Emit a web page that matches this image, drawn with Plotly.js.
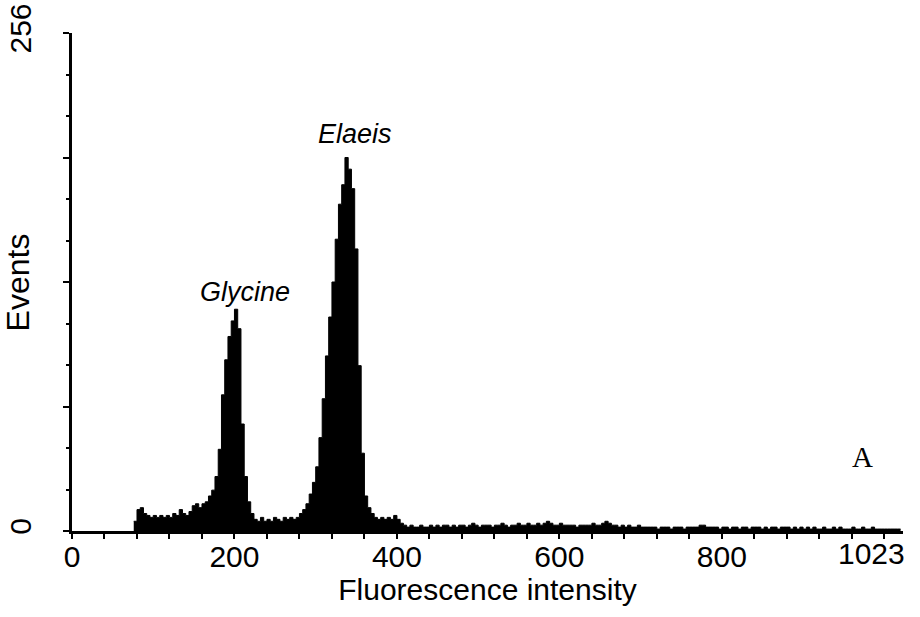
<!DOCTYPE html>
<html>
<head>
<meta charset="utf-8">
<script src="https://cdn.plot.ly/plotly-3.0.1.min.js"></script>
<style>html,body{margin:0;padding:0;background:#fff;}#chart{width:920px;height:617px;}</style>
</head>
<body>
<div id="chart"></div>
<script>
// Histogram: channel of first bin, bin width (channels), counts per bin
const binStart = 76;
const binWidth = 4;
const events = [
  // 76-156
  5, 11, 12, 9, 8, 7, 8, 7, 8, 7, 8, 7, 9, 8, 11, 9, 8, 10, 13, 14, 12,
  // 160-220 (Glycine)
  14, 15, 18, 21, 28, 42, 70, 88, 100, 108, 114, 104, 55, 28, 15, 9,
  // 224-276
  6, 5, 7, 5, 6, 5, 7, 6, 5, 7, 6, 7, 6, 7,
  // 280-368 (Elaeis)
  9, 11, 14, 19, 25, 33, 48, 68, 90, 110, 128, 150, 168, 178, 192, 186, 176, 145, 85, 40, 18, 12, 9,
  // 372-404
  7, 6, 7, 6, 7, 6, 8, 6, 4,
  // 408-508
  3, 2, 3, 2, 2, 3, 2, 2, 3, 2, 3, 2, 3, 3, 2, 3, 2, 3, 3, 2, 3, 4, 3, 2, 3, 3,
  // 512-608
  3, 2, 3, 3, 4, 3, 2, 3, 3, 4, 3, 3, 4, 3, 3, 4, 3, 4, 5, 4, 3, 3, 4, 3, 3,
  // 612-700
  3, 3, 2, 3, 3, 3, 3, 4, 3, 3, 4, 5, 4, 3, 3, 2, 3, 2, 3, 2, 2, 3, 2,
  // 704-800
  2, 2, 2, 2, 1, 2, 2, 2, 1, 2, 2, 2, 1, 2, 2, 2, 2, 3, 3, 2, 2, 2, 2, 1, 2,
  // 804-900
  2, 1, 2, 2, 1, 2, 2, 1, 2, 2, 2, 1, 2, 1, 2, 2, 1, 2, 2, 2, 1, 2, 1, 2, 1,
  // 904-1020
  2, 1, 2, 1, 1, 2, 1, 1, 2, 1, 2, 1, 1, 1, 2, 1, 1, 2, 1, 1, 2, 1, 1, 1, 1, 1, 1, 1, 1, 1
];

const xTickVals = [0, 200, 400, 600, 800];
const xTickText = ['0', '200', '400', '600', '800'];
const xMaxLabel = '1023';
const yTickVals = [0, 64, 128, 192, 256];
const yTickText = ['0', '', '', '', '256'];
const peakNames = ['Glycine', 'Elaeis'];
const panelLabel = 'A';

const FONT = 'Liberation Sans, Arial, sans-serif';

const trace = {
  type: 'scatter',
  mode: 'lines',
  x0: binStart,
  dx: binWidth,
  y: events,
  line: {shape: 'hv', color: '#000', width: 1},
  fill: 'tozeroy',
  fillcolor: '#000',
  hoverinfo: 'skip',
  showlegend: false
};

const layout = {
  width: 920,
  height: 617,
  margin: {l: 72, r: 17, t: 33, b: 86},
  paper_bgcolor: '#fff',
  plot_bgcolor: '#fff',
  showlegend: false,
  font: {family: FONT, color: '#000', size: 30},
  xaxis: {
    range: [0, 1023],
    showgrid: false,
    zeroline: false,
    showline: true,
    linecolor: '#000',
    linewidth: 3,
    ticks: 'outside',
    ticklen: 5,
    tickwidth: 2,
    tickcolor: '#000',
    tickvals: xTickVals,
    ticktext: xTickText,
    ticklabelstandoff: -8,
    tickfont: {family: FONT, size: 30, color: '#000'},
    minor: {dtick: 40, tick0: 0, ticks: 'outside', ticklen: 5, tickwidth: 2, tickcolor: '#000', showgrid: false},
    title: {text: 'Fluorescence intensity', font: {family: FONT, size: 30, color: '#000'}, standoff: 0},
    fixedrange: true
  },
  yaxis: {
    range: [0, 256],
    showgrid: false,
    zeroline: false,
    showline: true,
    linecolor: '#000',
    linewidth: 3,
    ticks: 'outside',
    ticklen: 6,
    tickwidth: 2,
    tickcolor: '#000',
    tickvals: yTickVals,
    ticktext: yTickText,
    tickangle: -90,
    ticklabelstandoff: 20,
    tickfont: {family: FONT, size: 30, color: '#000'},
    minor: {dtick: 64 / 3, tick0: 0, ticks: 'outside', ticklen: 3, tickwidth: 2, tickcolor: '#000', showgrid: false},
    fixedrange: true
  },
  annotations: [
    {text: 'Events', textangle: -90, xref: 'paper', yref: 'paper', x: -0.0645, y: 0.5,
     xanchor: 'center', yanchor: 'middle', showarrow: false,
     font: {family: FONT, size: 32, color: '#000'}},
    {text: xMaxLabel, xref: 'x', yref: 'paper', x: 1023, y: 0, yshift: -4, xshift: 4,
     xanchor: 'right', yanchor: 'top', showarrow: false,
     font: {family: FONT, size: 30, color: '#000'}},
    {text: '<i>' + peakNames[0] + '</i>', xref: 'x', yref: 'y', x: 213, y: 123,
     xanchor: 'center', yanchor: 'middle', showarrow: false,
     font: {family: FONT, size: 27, color: '#000'}},
    {text: '<i>' + peakNames[1] + '</i>', xref: 'x', yref: 'y', x: 348, y: 204,
     xanchor: 'center', yanchor: 'middle', showarrow: false,
     font: {family: FONT, size: 27, color: '#000'}},
    {text: panelLabel, xref: 'paper', yref: 'paper', x: 0.951, y: 0.149,
     xanchor: 'center', yanchor: 'middle', showarrow: false,
     font: {family: 'Liberation Serif, Times New Roman, serif', size: 29, color: '#000'}}
  ]
};

Plotly.newPlot('chart', [trace], layout, {staticPlot: true, displayModeBar: false});
</script>
</body>
</html>
